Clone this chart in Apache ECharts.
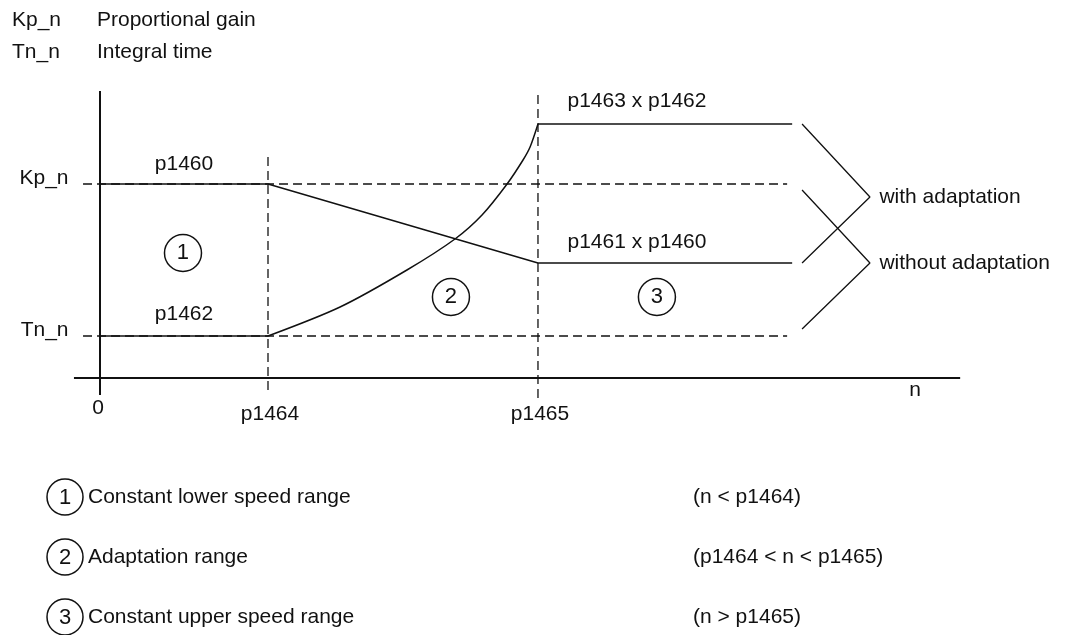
<!DOCTYPE html>
<html>
<head>
<meta charset="utf-8">
<style>html,body{margin:0;padding:0;background:#fff}#main{width:1065px;height:635px}</style>
<script src="https://cdn.jsdelivr.net/npm/echarts@6/dist/echarts.min.js"></script>
</head>
<body>
<div id="main"></div>
<script>
// speed axis n
var nBreaks = [0, 1000, 2607]            // 0, p1464, p1465
var nLabels = ['0', 'p1464', 'p1465']
var nLineEnd = 4120
var nDashStart = -101
var nAxisMin = -155
var nAxisMax = 5120

// controller levels
var kpN = 19.4          // Kp_n = p1460
var tnN = 4.2           // Tn_n = p1462
var kpAdapted = 11.5    // p1461 x p1460
var tnAdapted = 25.4    // p1463 x p1462
var yAxisTop = 28.7
var yAxisBottom = -1.7

// Tn in the adaptation range
var tnCurveN = [1000, 1429, 1827, 2113, 2274, 2423, 2518, 2560, 2607]
var tnCurveV = [4.2, 7.1, 10.8, 13.9, 16.3, 19.4, 21.8, 23.1, 25.4]

// brackets on the right
var bracketN = [4179, 4583]
var withEnds = [tnAdapted, 18.1, kpAdapted]
var withoutEnds = [18.8, kpAdapted, 4.9]

// ranges
var rangeIds = ['1', '2', '3']
var rangeNames = ['Constant lower speed range', 'Adaptation range', 'Constant upper speed range']
var rangeConds = ['(n < p1464)', '(p1464 < n < p1465)', '(n > p1465)']
var rangeMarkN = [494, 2089, 3315]
var rangeMarkV = [12.5, 8.1, 8.1]

var FONT = '"Liberation Sans", Arial, sans-serif'
var FS = 21
var INK = '#111'

var chartDom = document.getElementById('main')
var myChart = echarts.init(chartDom)

function seg(points, dashed, width) {
  return {
    type: 'line', data: points, symbol: 'none', silent: true,
    lineStyle: { color: INK, width: width || 1.5, type: dashed ? [9, 5] : 'solid' }
  }
}

var curve = tnCurveN.map(function (n, i) { return [n, tnCurveV[i]] })
var curveSeries = seg(curve, false, 1.5)
curveSeries.smooth = 0.3

var labelStyle = { color: INK, fontSize: FS, fontFamily: FONT, textBorderWidth: 0, opacity: 1 }

function textPoint(name, n, v, label) {
  return { name: name, value: [n, v], label: Object.assign({ show: true, formatter: name }, labelStyle, label) }
}

var texts = [
  textPoint('p1460', (nBreaks[0] + nBreaks[1]) / 2, kpN, { position: 'inside', offset: [0, -20] }),
  textPoint('p1462', (nBreaks[0] + nBreaks[1]) / 2, tnN, { position: 'inside', offset: [0, -22] }),
  textPoint('p1463 x p1462', nBreaks[2], tnAdapted, { position: 'right', distance: 29, offset: [0, -23] }),
  textPoint('p1461 x p1460', nBreaks[2], kpAdapted, { position: 'right', distance: 29, offset: [0, -21] }),
  textPoint('with adaptation', bracketN[1], withEnds[1], { position: 'right', distance: 9 }),
  textPoint('without adaptation', bracketN[1], withoutEnds[1], { position: 'right', distance: 9 }),
  textPoint('Kp_n', 0, kpN, { position: 'left', distance: 31, offset: [0, -6] }),
  textPoint('Tn_n', 0, tnN, { position: 'left', distance: 31, offset: [0, -6] }),
  textPoint('n', nAxisMax, 0, { position: 'inside', offset: [-45, 12] })
]
nBreaks.forEach(function (n, i) {
  texts.push(textPoint(nLabels[i], n, 0, { position: 'inside', offset: i === 0 ? [-2, 30] : [2, 36] }))
})

var marks = rangeIds.map(function (id, i) {
  return { name: id, value: [rangeMarkN[i], rangeMarkV[i]] }
})

var series = [
  // axes
  seg([[nAxisMin, 0], [nAxisMax, 0]], false, 2),
  seg([[0, yAxisBottom], [0, yAxisTop]], false, 2),
  // level references without adaptation
  seg([[nDashStart, kpN], [nLineEnd - 30, kpN]], true, 1.3),
  seg([[nDashStart, tnN], [nLineEnd - 30, tnN]], true, 1.3),
  // range borders
  seg([[nBreaks[1], -1.2], [nBreaks[1], 22.3]], true, 1.3),
  seg([[nBreaks[2], -2.0], [nBreaks[2], yAxisTop]], true, 1.3),
  // with adaptation
  seg([[nBreaks[0], kpN], [nBreaks[1], kpN], [nBreaks[2], kpAdapted], [nLineEnd, kpAdapted]]),
  seg([[nBreaks[0], tnN], [nBreaks[1], tnN]]),
  curveSeries,
  seg([[nBreaks[2], tnAdapted], [nLineEnd, tnAdapted]]),
  // brackets
  seg([[bracketN[0], withEnds[0]], [bracketN[1], withEnds[1]], [bracketN[0], withEnds[2]]], false, 1.3),
  seg([[bracketN[0], withoutEnds[0]], [bracketN[1], withoutEnds[1]], [bracketN[0], withoutEnds[2]]], false, 1.3),
  {
    type: 'scatter', silent: true, symbolSize: 37, data: marks,
    itemStyle: { color: '#fff', borderColor: INK, borderWidth: 1.5, opacity: 1 },
    label: { show: true, position: 'inside', formatter: '{b}', color: INK, fontSize: 22, fontFamily: FONT, textBorderWidth: 0 }
  },
  {
    type: 'scatter', silent: true, symbolSize: 1, data: texts,
    itemStyle: { color: 'rgba(0,0,0,0)' }
  }
]

// header and range legend
var graphics = []
function gText(text, x, y) {
  graphics.push({
    type: 'text', x: x, y: y, silent: true,
    style: { text: text, fill: INK, font: FS + 'px ' + FONT, textVerticalAlign: 'middle', verticalAlign: 'middle' }
  })
}
gText('Kp_n', 12, 20)
gText('Proportional gain', 97, 20)
gText('Tn_n', 12, 52)
gText('Integral time', 97, 52)
var rowY = [497, 557, 617]
rangeIds.forEach(function (id, i) {
  graphics.push({
    type: 'circle', silent: true, shape: { cx: 65, cy: rowY[i], r: 18 },
    style: { fill: '#fff', stroke: INK, lineWidth: 1.5 }
  })
  graphics.push({
    type: 'text', x: 65, y: rowY[i] + 1, silent: true,
    style: { text: id, fill: INK, font: '22px ' + FONT, textAlign: 'center', align: 'center', textVerticalAlign: 'middle', verticalAlign: 'middle' }
  })
  gText(rangeNames[i], 88, rowY[i])
  gText(rangeConds[i], 693, rowY[i])
})

var option = {
  animation: false,
  grid: { left: 100 + nAxisMin * 0.168, right: 1065 - (100 + nAxisMax * 0.168), top: 88, bottom: 207 },
  xAxis: { type: 'value', min: nAxisMin, max: nAxisMax, show: false },
  yAxis: { type: 'value', min: -5, max: 29, show: false },
  graphic: graphics,
  series: series
}

option && myChart.setOption(option)
</script>
</body>
</html>
